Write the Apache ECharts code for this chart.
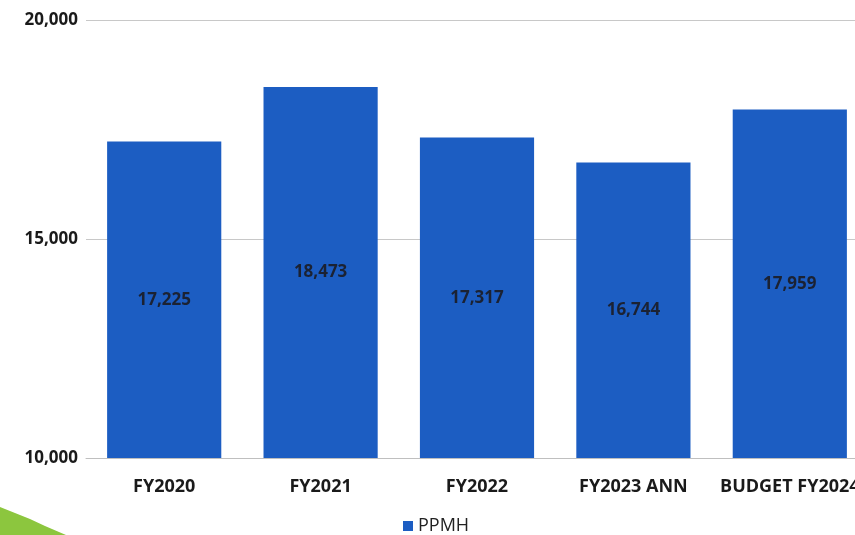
<!DOCTYPE html>
<html>
<head>
<meta charset="utf-8">
<script src="https://cdn.jsdelivr.net/npm/echarts@6/dist/echarts.min.js"></script>
<style>html,body{margin:0;padding:0;background:#fff;overflow:hidden;}#c{width:880px;height:535px;}</style>
</head>
<body>
<div id="c"></div>
<script>
const categories = ['FY2020', 'FY2021', 'FY2022', 'FY2023 ANN', 'BUDGET FY2024'];
const ppmh = [17225, 18473, 17317, 16744, 17959];
const yTicks = [10000, 15000, 20000];
const seriesName = 'PPMH';

const chart = echarts.init(document.getElementById('c'));
chart.setOption({
  animation: false,
  backgroundColor: '#ffffff',
  textStyle: { fontFamily: 'Open Sans' },
  grid: { left: 86, top: 20, width: 782, height: 438 },
  legend: {
    data: [seriesName],
    top: 512,
    left: 398,
    itemWidth: 10,
    itemHeight: 10,
    itemGap: 10,
    icon: 'rect',
    textStyle: { fontSize: 18, color: '#222', fontFamily: 'Open Sans' }
  },
  graphic: [{
    type: 'polygon',
    shape: { points: [[0, 507], [15, 513], [30, 519], [45, 526], [66, 535], [0, 535]] },
    style: { fill: '#8cc63e' },
    silent: true
  }],
  xAxis: {
    type: 'category',
    data: categories,
    axisLine: { show: true, lineStyle: { color: '#bfbfbf', width: 1 } },
    axisTick: { show: false },
    axisLabel: { interval: 0, fontSize: 18, fontWeight: 'bold', color: '#1a1a1a', margin: 20, fontFamily: 'Open Sans' }
  },
  yAxis: {
    type: 'value',
    min: yTicks[0],
    max: yTicks[yTicks.length - 1],
    interval: yTicks[1] - yTicks[0],
    axisLine: { show: false },
    axisTick: { show: false },
    splitLine: { show: true, lineStyle: { color: '#c8c8c8', width: 1 } },
    axisLabel: {
      fontSize: 17, fontWeight: 'bold', color: '#1a1a1a', margin: 8,
      formatter: v => v.toLocaleString('en-US')
    }
  },
  series: [{
    name: seriesName,
    type: 'bar',
    data: ppmh,
    barCategoryGap: '27%',
    itemStyle: { color: '#1c5dc2' },
    label: {
      show: true,
      position: 'inside',
      color: '#1b2233',
      fontSize: 17,
      fontFamily: 'Open Sans',
      fontWeight: 'bold',
      formatter: p => p.value.toLocaleString('en-US')
    }
  }]
});
</script>
</body>
</html>
